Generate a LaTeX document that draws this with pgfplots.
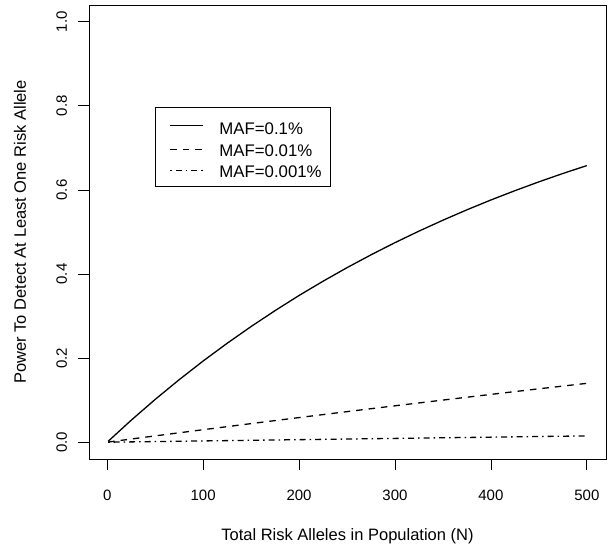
\documentclass[border=0pt]{standalone}
\usepackage{fontspec}
\setmainfont{Liberation Sans}
\usepackage{pgfplots}
\pgfplotsset{compat=1.18}
\tikzset{
  rsolid/.style={black, line width=1.3pt, solid},
  rdashed/.style={black, line width=1.3pt, dash pattern=on 6.5pt off 6pt},
  rdashdot/.style={black, line width=1.3pt, dash pattern=on 1.5pt off 4pt on 6pt off 4pt},
}
\begin{document}
\begin{tikzpicture}
\path[use as bounding box] (-89pt,-91pt) rectangle (519pt,459pt);
\begin{axis}[
  at={(0pt,0pt)}, anchor=south west,
  scale only axis, width=517pt, height=454pt,
  xmin=-18.96, xmax=519.96, ymin=-0.04, ymax=1.04,
  xtick={0,100,200,300,400,500},
  ytick={0,0.2,0.4,0.6,0.8,1.0},
  yticklabel style={/pgf/number format/.cd, fixed, fixed zerofill, precision=1, /tikz/.cd},
  /pgf/number format/assume math mode=true,
  tick align=outside, major tick length=11pt,
  tick style={black, line width=0.8pt},
  xtick pos=bottom, ytick pos=left,
  axis line style={black, line width=0.8pt},
  ticklabel style={font=\fontsize{15}{18}\selectfont, inner sep=0pt},
  xticklabel style={anchor=base, yshift=-30pt},
  yticklabel style={xshift=-11pt, rotate=90, anchor=base},
  label style={font=\fontsize{16.5}{20}\selectfont},
  xlabel={Total Risk Alleles in Population (N)},
  ylabel={Power To Detect At Least One Risk Allele},
  xlabel style={at={(axis description cs:0.5,0)}, anchor=base, yshift=-81pt, inner sep=0pt},
  ylabel style={at={(axis description cs:0,0.5)}, anchor=center, yshift=69pt, inner sep=0pt},
  legend style={at={(axis description cs:0.1277,0.7753)}, anchor=north west,
    draw=black, thick, inner xsep=7pt, inner ysep=4.5pt,
    font=\fontsize{16.8}{20}\selectfont,
    row sep=0pt},
  legend cell align=left,
]
\addlegendimage{legend image code/.code={\path[draw=none] (0pt,0pt) -- (55pt,0pt); \draw[rsolid] (8pt,0pt) -- (41pt,0pt);}}
\addlegendentry{\rule[-4pt]{0pt}{25pt}MAF=0.1\%}
\addlegendimage{legend image code/.code={\path[draw=none] (0pt,0pt) -- (55pt,0pt); \draw[rdashed] (8pt,0pt) -- (41pt,0pt);}}
\addlegendentry{\rule[-4pt]{0pt}{20pt}MAF=0.01\%}
\addlegendimage{legend image code/.code={\path[draw=none] (0pt,0pt) -- (55pt,0pt); \draw[rdashdot] (8pt,0pt) -- (41pt,0pt);}}
\addlegendentry{\rule[-4pt]{0pt}{20pt}MAF=0.001\%}
\addplot[rsolid, forget plot] coordinates {
(1,0.0021) (25,0.0522) (50,0.1017) (75,0.1486) (100,0.1931) (125,0.2352) (150,0.2751)
(175,0.3130) (200,0.3490) (225,0.3829) (250,0.4152) (275,0.4457) (300,0.4747)
(325,0.5021) (350,0.5281) (375,0.5528) (400,0.5762) (425,0.5983) (450,0.6193)
(475,0.6392) (500,0.6580)
};
\addplot[rdashed, forget plot] coordinates {
(1,0.0003) (50,0.0150) (100,0.0297) (150,0.0442) (200,0.0586) (250,0.0727)
(300,0.0866) (350,0.1002) (400,0.1137) (450,0.1270) (500,0.1400)
};
\addplot[rdashdot, forget plot] coordinates {
(1,0.0000) (100,0.0030) (200,0.0060) (300,0.0090) (400,0.0120) (500,0.0150)
};
\end{axis}
\end{tikzpicture}
\end{document}
